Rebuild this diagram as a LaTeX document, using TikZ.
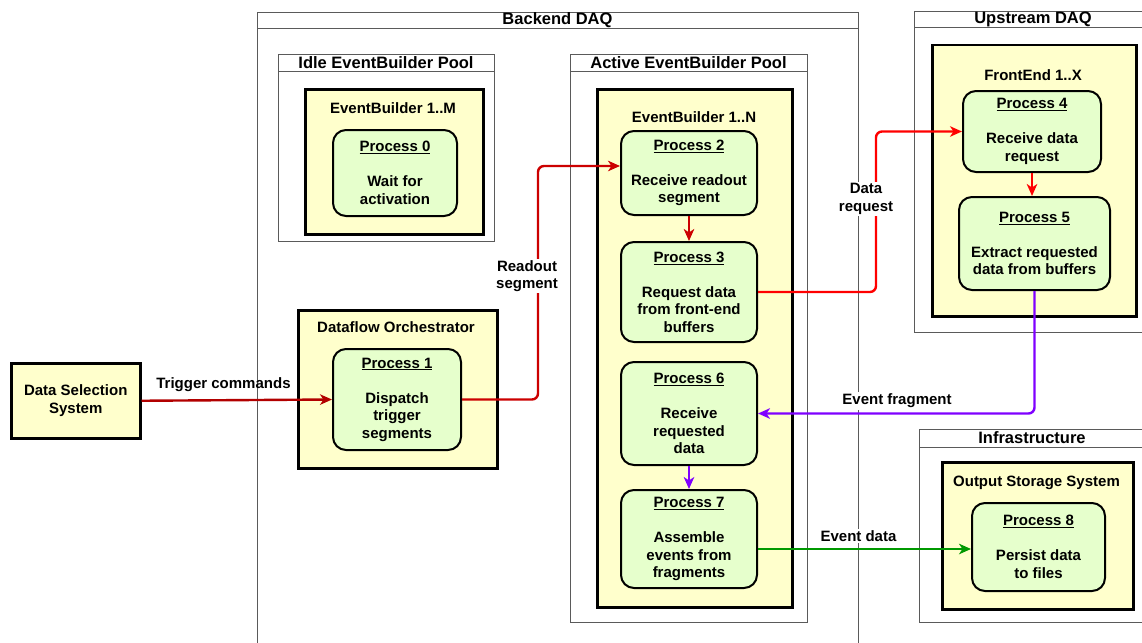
\documentclass[tikz,border=0pt]{standalone}
\usepackage{fontspec}
\setmainfont{Liberation Sans}
\usetikzlibrary{arrows.meta,calc}
\definecolor{yel}{HTML}{FFFFCC}
\definecolor{grn}{HTML}{E6FFCC}
\definecolor{frame}{HTML}{5A5A5A}
\definecolor{dred}{HTML}{B20000}
\definecolor{mred}{HTML}{CC0000}
\definecolor{bred}{HTML}{FF0000}
\definecolor{purp}{HTML}{7F00FF}
\definecolor{dgreen}{HTML}{009900}
\newcommand\fbody{\fontsize{15}{17.5}\selectfont\bfseries}
\newcommand\ftitle{\fontsize{16.5}{19}\selectfont\bfseries}
\tikzset{
 cont/.style={draw=frame, line width=1pt, fill=white, inner sep=0pt, anchor=north west},
 ybox/.style={draw=black, line width=2.5pt, fill=yel, inner sep=0pt, anchor=north west},
 proc/.style={draw=black, line width=2pt, fill=grn, rounded corners=13pt, align=center, font=\fbody, inner sep=0pt},
 ttl/.style={font=\ftitle, inner sep=0pt},
 hdr/.style={font=\fbody, inner sep=0pt, align=center},
 lbl/.style={font=\fbody, align=center, fill=white, inner sep=1.5pt},
 conn/.style={line width=2.4pt, rounded corners=6pt, -{Stealth[length=12pt,width=10.5pt,inset=3.5pt]}}
}
\begin{document}
\begin{tikzpicture}[x=1pt,y=-1pt]
\useasboundingbox (0,0) rectangle (1142,642);
% containers
\node[cont, minimum width=601pt, minimum height=660pt] (backend) at (257,12) {};
\draw[frame, line width=1pt] ([yshift=-17pt]backend.north west) -- ([yshift=-17pt]backend.north east);
\node[ttl] (backendT) at (557.5,20.5) {Backend DAQ};

\node[cont, minimum width=216pt, minimum height=187pt] (idle) at (278,54) {};
\draw[frame, line width=1pt] ([yshift=-17pt]idle.north west) -- ([yshift=-17pt]idle.north east);
\node[ttl] (idleT) at (386,63) {Idle EventBuilder Pool};

\node[cont, minimum width=237pt, minimum height=568pt] (active) at (570,54) {};
\draw[frame, line width=1pt] ([yshift=-17pt]active.north west) -- ([yshift=-17pt]active.north east);
\node[ttl] (activeT) at (688.5,63) {Active EventBuilder Pool};

\node[cont, minimum width=238pt, minimum height=321pt] (up) at (914,11) {};
\draw[frame, line width=1pt] ([yshift=-17pt]up.north west) -- ([yshift=-17pt]up.north east);
\node[ttl] (upT) at (1033,19.5) {Upstream DAQ};

\node[cont, minimum width=233pt, minimum height=193pt] (infra) at (919,429) {};
\draw[frame, line width=1pt] ([yshift=-18pt]infra.north west) -- ([yshift=-18pt]infra.north east);
\node[ttl] (infraT) at (1032,438) {Infrastructure};

% yellow boxes
\node[ybox, minimum width=178pt, minimum height=145pt] (ebM) at (304,88) {};
\node[hdr] (ebMT) at (393,108) {EventBuilder 1..M};
\node[ybox, minimum width=195pt, minimum height=518pt] (ebN) at (596,88) {};
\node[hdr] (ebNT) at (694,117) {EventBuilder 1..N};
\node[ybox, minimum width=199pt, minimum height=158pt] (dfo) at (297,309) {};
\node[hdr] (dfoT) at (396,327) {Dataflow Orchestrator};
\node[ybox, minimum width=204pt, minimum height=271pt] (fe) at (931,44) {};
\node[hdr] (feT) at (1033,75) {FrontEnd 1..X};
\node[ybox, minimum width=191pt, minimum height=147pt] (oss) at (941,461) {};
\node[hdr] (ossT) at (1036.5,483) {Output Storage System};
\node[ybox, minimum width=129pt, minimum height=75pt, align=center, font=\fbody] (dss) at (10,362) {Data Selection\\System};

% processes
\node[proc, minimum width=124pt, minimum height=86pt] (p0) at (395,173) {\underline{Process 0}\\[17.5pt]Wait for\\activation};
\node[proc, minimum width=128pt, minimum height=101pt] (p1) at (397,399.5) {\underline{Process 1}\\[17.5pt]Dispatch\\trigger\\segments};
\node[proc, minimum width=136pt, minimum height=84pt] (p2) at (689,173) {\underline{Process 2}\\[17.5pt]Receive readout\\segment};
\node[proc, minimum width=136pt, minimum height=100pt] (p3) at (689,292) {\underline{Process 3}\\[17.5pt]Request data\\from front-end\\buffers};
\node[proc, minimum width=136pt, minimum height=103pt] (p6) at (689,413.5) {\underline{Process 6}\\[17.5pt]Receive\\requested\\data};
\node[proc, minimum width=136pt, minimum height=98pt] (p7) at (689,539) {\underline{Process 7}\\[17.5pt]Assemble\\events from\\fragments};
\node[proc, minimum width=138pt, minimum height=81pt] (p4) at (1032,131.5) {\underline{Process 4}\\[17.5pt]Receive data\\request};
\node[proc, minimum width=151pt, minimum height=93pt] (p5) at (1034.5,243.5) {\underline{Process 5}\\[17.5pt]Extract requested\\data from buffers};
\node[proc, minimum width=133pt, minimum height=88pt] (p8) at (1038.5,547) {\underline{Process 8}\\[17.5pt]Persist data\\to files};

% connectors
\draw[conn, dred] (dss.east) -- (p1.west);
\node[hdr] (trigL) at (223.5,385) {Trigger commands};

\draw[conn, mred] (p1.east) -- ++(76,0) |- ([yshift=7pt]p2.west);
\node[lbl] (roL) at (527,276) {Readout\\segment};

\draw[conn, mred] (p2.south) -- (p3.north);

\draw[conn, bred] (p3.east) -- ++(118,0) |- (p4.west);
\node[lbl] (drL) at (866,199) {Data\\request};

\draw[conn, bred] (p4.south) -- (p4.south |- p5.north);

\draw[conn, purp] (p5.south) |- (p6.east);
\node[lbl] (efL) at (897,401) {Event fragment};

\draw[conn, purp] (p6.south) -- (p7.north);

\draw[conn, dgreen] ([yshift=-10pt]p7.east) -- ([yshift=-2pt]p8.west);
\node[lbl] (edL) at (858.5,536) {Event data};
\end{tikzpicture}
\end{document}
